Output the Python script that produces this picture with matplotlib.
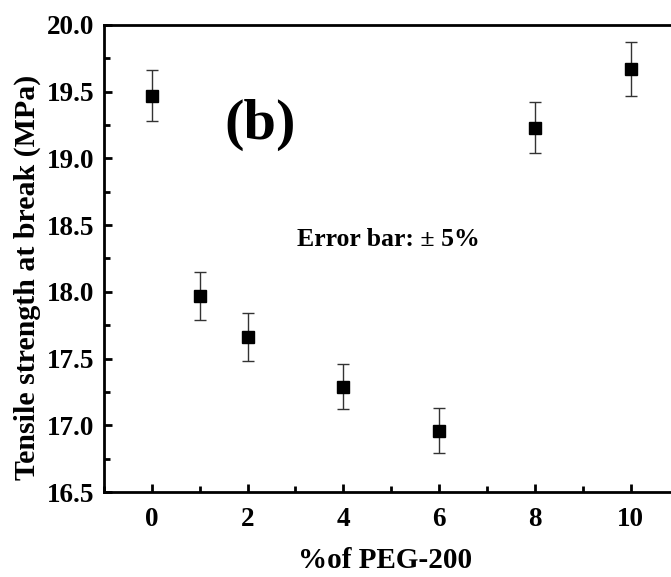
import matplotlib
matplotlib.use('Agg')
import matplotlib.pyplot as plt
from matplotlib.ticker import MultipleLocator, FormatStrFormatter

# PEG-200 content (%) and tensile strength at break (MPa)
peg_content = [0, 1, 2, 4, 6, 8, 10]
tensile_strength = [19.47, 17.97, 17.66, 17.29, 16.96, 19.23, 19.67]
strength_err = [0.19, 0.18, 0.18, 0.17, 0.17, 0.19, 0.20]

plt.rcParams['font.family'] = ['Liberation Serif', 'DejaVu Serif']
plt.rcParams['font.weight'] = 'bold'

fig = plt.figure(figsize=(6.71, 5.77), dpi=100)
ax = fig.add_axes([0.155, 0.147, 0.856, 0.81])

ax.errorbar(peg_content, tensile_strength, yerr=strength_err, fmt='s',
            color='black', markersize=9, ecolor='#333333', elinewidth=1.0,
            capsize=4, capthick=1.0)

ax.set_xlim(-1, 11)
ax.set_ylim(16.5, 20.0)
ax.xaxis.set_major_locator(MultipleLocator(2))
ax.xaxis.set_minor_locator(MultipleLocator(1))
ax.yaxis.set_major_locator(MultipleLocator(0.5))
ax.yaxis.set_minor_locator(MultipleLocator(0.25))
ax.yaxis.set_major_formatter(FormatStrFormatter('%.1f'))

ax.tick_params(which='both', direction='in', width=2, labelsize=19.5, top=False, right=False)
ax.tick_params(which='major', length=6)
ax.tick_params(axis='x', which='major', pad=11)
ax.tick_params(axis='y', which='major', pad=7)
ax.tick_params(which='minor', length=4)
for spine in ax.spines.values():
    spine.set_linewidth(2)

ax.set_xlabel('%of PEG-200', fontsize=21, fontweight='bold')
ax.set_ylabel('Tensile strength at break (MPa)', fontsize=21.5, fontweight='bold')
ax.xaxis.set_label_coords(0.49, -0.118)
ax.yaxis.set_label_coords(-0.11, 0.46)

ax.text(2.26, 19.25, '(b)', fontsize=42, fontweight='bold', ha='center', va='center')
ax.text(3.04, 18.39, 'Error bar: ± 5%', fontsize=18.5, fontweight='bold', ha='left', va='center')

fig.savefig('out.png', dpi=100)
